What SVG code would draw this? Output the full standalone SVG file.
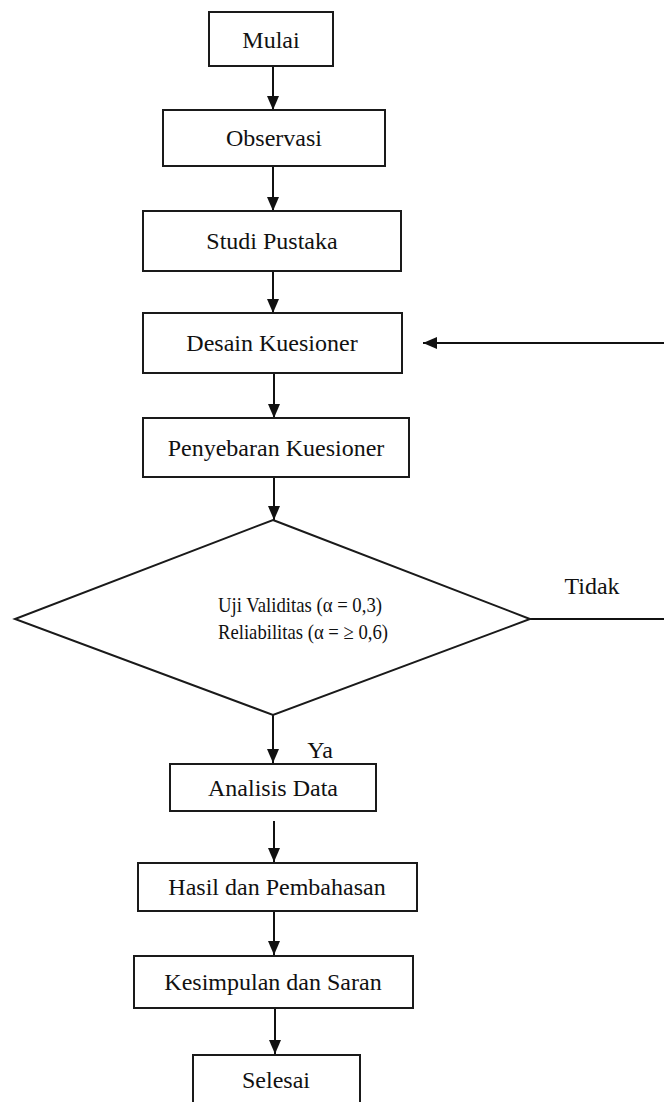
<svg xmlns="http://www.w3.org/2000/svg" width="664" height="1102" viewBox="0 0 664 1102">
<style>
.box{fill:#fff;stroke:#1a1a1a;stroke-width:2}
.t{font-family:"Liberation Serif","Times New Roman",serif;font-size:24px;fill:#111;text-anchor:middle}
.d{font-family:"Liberation Serif","Times New Roman",serif;font-size:21px;fill:#111}
.c{fill:none;stroke:#111;stroke-width:2}
</style>
<defs>
<marker id="ah" markerUnits="userSpaceOnUse" markerWidth="14" markerHeight="14" viewBox="0 0 14 14" refX="14" refY="7" orient="auto">
<path d="M0,1 L14,7 L0,13 Z" fill="#111"/>
</marker>
</defs>
<rect width="664" height="1102" fill="#fff"/>
<g id="connectors">
<path class="c" d="M273,66 V110" marker-end="url(#ah)"/>
<path class="c" d="M273,166 V211" marker-end="url(#ah)"/>
<path class="c" d="M273,271 V313" marker-end="url(#ah)"/>
<path class="c" d="M274,373 V418" marker-end="url(#ah)"/>
<path class="c" d="M274,477 V520" marker-end="url(#ah)"/>
<path class="c" d="M273,715 V763" marker-end="url(#ah)"/>
<path class="c" d="M274,821 V862" marker-end="url(#ah)"/>
<path class="c" d="M274,911 V955" marker-end="url(#ah)"/>
<path class="c" d="M275,1008 V1054" marker-end="url(#ah)"/>
<path class="c" d="M530,619 H672 V343 H423" marker-end="url(#ah)"/>
<text class="t" x="592" y="594">Tidak</text>
<text class="t" x="320" y="758">Ya</text>
</g>
<g id="mulai"><rect class="box" x="209" y="12" width="124" height="54"/><text class="t" x="271" y="48">Mulai</text></g>
<g id="observasi"><rect class="box" x="163" y="110" width="222" height="56"/><text class="t" x="274" y="146">Observasi</text></g>
<g id="studi"><rect class="box" x="143" y="211" width="258" height="60"/><text class="t" x="272" y="249">Studi Pustaka</text></g>
<g id="desain"><rect class="box" x="143" y="313" width="259" height="60"/><text class="t" x="272" y="351">Desain Kuesioner</text></g>
<g id="penyebaran"><rect class="box" x="143" y="418" width="266" height="59"/><text class="t" x="276" y="456">Penyebaran Kuesioner</text></g>
<g id="uji"><path class="box" d="M273,520 L530,619 L273,715 L15,619 Z"/>
<text class="d" x="218" y="612" textLength="164" lengthAdjust="spacingAndGlyphs">Uji Validitas (α = 0,3)</text>
<text class="d" x="218" y="639" textLength="170" lengthAdjust="spacingAndGlyphs">Reliabilitas (α = ≥ 0,6)</text></g>
<g id="analisis"><rect class="box" x="170" y="764" width="206" height="47"/><text class="t" x="273" y="796">Analisis Data</text></g>
<g id="hasil"><rect class="box" x="138" y="863" width="279" height="48"/><text class="t" x="277" y="895">Hasil dan Pembahasan</text></g>
<g id="kesimpulan"><rect class="box" x="134" y="956" width="279" height="52"/><text class="t" x="273" y="990">Kesimpulan dan Saran</text></g>
<g id="selesai"><rect class="box" x="193" y="1055" width="167" height="60"/><text class="t" x="276" y="1088">Selesai</text></g>
</svg>
